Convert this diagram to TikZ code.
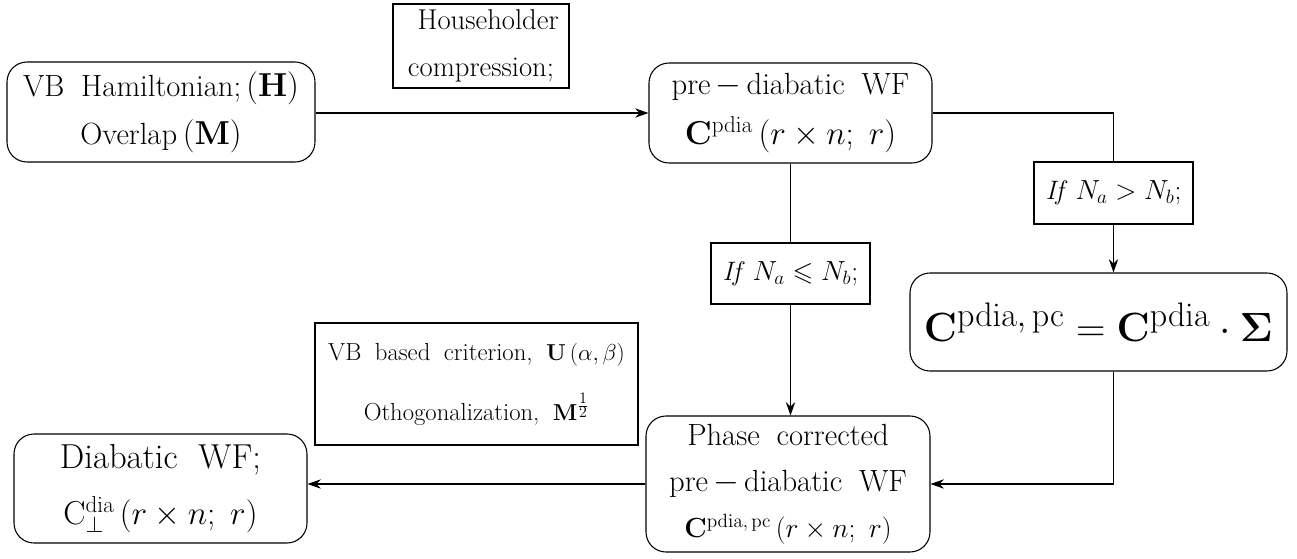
\documentclass[tikz,border=0pt]{standalone}
\usepackage{graphicx}
\usepackage{amsmath,amssymb}
\usetikzlibrary{arrows.meta}
\newcommand{\ws}{\hspace{0.55em}}
\begin{document}
\begin{tikzpicture}[x=0.75pt,y=-0.75pt,
  rbox/.style={draw,rounded corners=15pt,line width=0.8pt,align=center,inner sep=0pt},
  sbox/.style={draw,line width=0.8pt,align=center,inner sep=0pt},
  conn/.style={line width=0.8pt},
  arr/.style={conn,-{Stealth[length=10pt,width=7pt]}},
  mainfont/.style={font=\fontsize{23}{36}\selectfont},
  hfont/.style={font=\fontsize{21.5}{35}\selectfont},
  iffont/.style={font=\fontsize{20}{24}\selectfont},
  smallfont/.style={font=\fontsize{18.5}{45}\selectfont},
  bigfont/.style={font=\fontsize{24.88}{30}\selectfont}]
\useasboundingbox (0,0) rectangle (1297,558);

\node[rbox,mainfont,minimum width=231pt,minimum height=75pt] (A) at (161,112)
  {VB\ws Hamiltonian;\,$(\mathbf{H})$\\ Overlap$\,(\mathbf{M})$};
\node[sbox,hfont,minimum width=132pt,minimum height=63pt] (H) at (481,46)
  {\hspace{0.5em}Householder\\ compression;};
\node[rbox,mainfont,minimum width=212.25pt,minimum height=75pt] (B) at (790.5,113)
  {pre\,$-$\,diabatic\ws WF\\[2pt] $\mathbf{C}^{\mathrm{pdia}}\,(r\times n;\ r)$};
\node[sbox,iffont,minimum width=119.25pt,minimum height=46.5pt] (C) at (1113.5,193)
  {\textit{If}\ $N_a > N_b;$};
\node[sbox,iffont,minimum width=119.25pt,minimum height=45.75pt] (G) at (790.5,273.5)
  {\textit{If}\ $N_a \leqslant N_b;$};
\node[rbox,bigfont,minimum width=282.75pt,minimum height=73.5pt] (D) at (1098.5,322)
  {\scalebox{1.23}{$\mathbf{C}^{\mathrm{pdia,\,pc}} = \mathbf{C}^{\mathrm{pdia}}\cdot\boldsymbol{\Sigma}$}};
\node[rbox,mainfont,minimum width=213pt,minimum height=102pt] (E) at (788,484)
  {Phase\ws corrected\\[-1pt] pre\,$-$\,diabatic\ws WF\\[-2pt] {\fontsize{22}{26}\selectfont$\mathbf{C}^{\mathrm{pdia,\,pc}}\,(r\times n;\ r)$}};
\node[sbox,smallfont,minimum width=242.25pt,minimum height=91.5pt] (V) at (476.5,384)
  {VB\ws based\ws criterion,\ws $\mathbf{U}\,(\alpha,\beta)$\\ Othogonalization,\ws $\mathbf{M}^{\frac{\scriptstyle 1}{\scriptstyle 2}}$};
\node[rbox,mainfont,minimum width=219.75pt,minimum height=81.75pt] (F) at (160.5,488.5)
  {{\fontsize{26}{30}\selectfont Diabatic\hspace{0.6em}WF;}\\[6pt] $\mathrm{C}_{\perp}^{\mathrm{dia}}\,(r\times n;\ r)$};

\draw[arr] (A.east |- B.west) -- (B.west);
\draw[conn] (B.east) -| (C.north);
\draw[arr] (C.south) -- (C.south |- D.north);
\draw[conn] (B.south) -- (G.north);
\draw[arr] (G.south) -- (G.south |- E.north);
\draw[arr] (C.south |- D.south) |- (E.east);
\draw[arr] (E.west) -- (E.west -| F.east);
\end{tikzpicture}
\end{document}
